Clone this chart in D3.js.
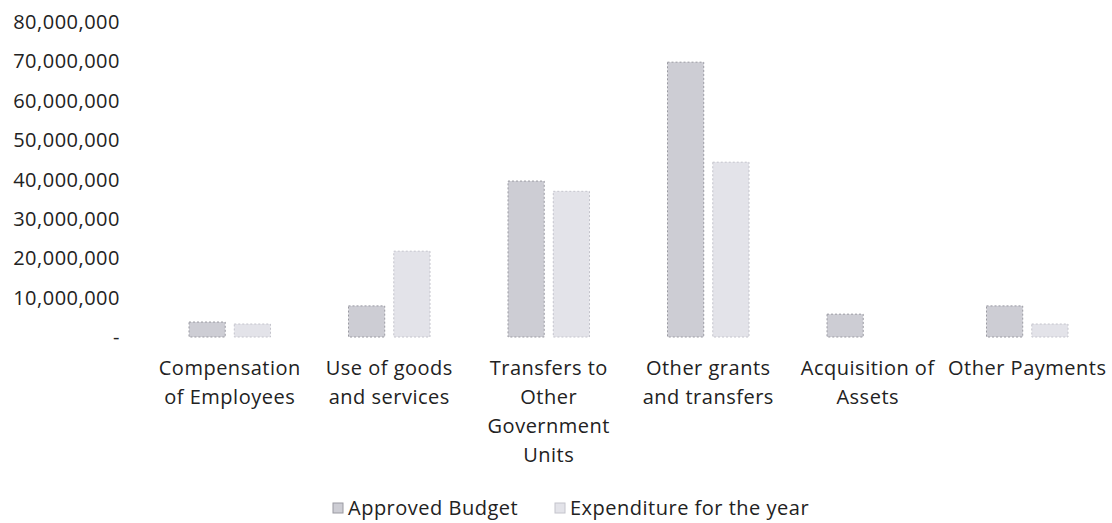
<!DOCTYPE html>
<html lang="en">
<head>
<meta charset="utf-8">
<title>Approved Budget vs Expenditure</title>
<script src="https://d3js.org/d3.v7.min.js"></script>
<style>
    body { margin: 0; background: #fff; font-family: "Open Sans", Lato, sans-serif; }
    svg text { fill: #222; font-size: 20px; letter-spacing: 0.5px; }
</style>
</head>
<body>
<svg id="chart" width="1112" height="523"></svg>
<script>
    // categories (each line of the wrapped label)
    const categories = [
        ["Compensation", "of Employees"],
        ["Use of goods", "and services"],
        ["Transfers to", "Other", "Government", "Units"],
        ["Other grants", "and transfers"],
        ["Acquisition of", "Assets"],
        ["Other Payments"]
    ];
    const seriesNames = ["Approved Budget", "Expenditure for the year"];
    const approved = [3800000, 7900000, 39600000, 69800000, 5800000, 7900000];
    const expenditure = [3300000, 21800000, 37000000, 44400000, 0, 3300000];
    const yTicks = [0, 10000000, 20000000, 30000000, 40000000, 50000000, 60000000, 70000000, 80000000];

    const colors = ["#cdcdd4", "#e3e3e9"];
    const strokes = ["#9a9aa2", "#c4c4cc"];

    const svg = d3.select("#chart");
    const plotLeft = 150, plotRight = 1107, plotTop = 22, plotBottom = 337;

    const y = d3.scaleLinear().domain([0, 80000000]).range([plotBottom, plotTop]);
    const x0 = d3.scaleBand().domain(d3.range(categories.length)).range([plotLeft, plotRight]);
    const x1 = d3.scaleBand().domain([0, 1]).range([39, x0.bandwidth() - 39]).paddingInner(0.2);

    // y axis labels
    const fmt = d3.format(",");
    svg.append("g")
        .selectAll("text")
        .data(yTicks)
        .join("text")
        .attr("x", 120)
        .attr("y", d => y(d))
        .attr("dy", "0.35em")
        .attr("text-anchor", "end")
        .text(d => d === 0 ? "-" : fmt(d));

    // bars
    const groups = svg.append("g")
        .selectAll("g")
        .data(categories.map((c, i) => i))
        .join("g")
        .attr("transform", i => `translate(${x0(i)},0)`);

    groups.selectAll("rect")
        .data(i => [approved[i], expenditure[i]].map((v, s) => ({v, s})).filter(d => d.v > 0))
        .join("rect")
        .attr("x", d => x1(d.s))
        .attr("width", x1.bandwidth())
        .attr("y", d => y(d.v))
        .attr("height", d => y(0) - y(d.v))
        .attr("fill", d => colors[d.s])
        .attr("stroke", d => strokes[d.s])
        .attr("stroke-width", 1)
        .attr("stroke-dasharray", "2,2");

    // category labels
    groups.append("text")
        .attr("text-anchor", "middle")
        .attr("x", x0.bandwidth() / 2)
        .selectAll("tspan")
        .data(i => categories[i])
        .join("tspan")
        .attr("x", x0.bandwidth() / 2)
        .attr("y", (d, j) => 375 + j * 29)
        .text(d => d);

    // legend
    const legendX = [333, 555];
    const legend = svg.append("g")
        .selectAll("g")
        .data(seriesNames)
        .join("g")
        .attr("transform", (d, i) => `translate(${legendX[i]},508)`);

    legend.append("rect")
        .attr("x", 0).attr("y", -5)
        .attr("width", 10).attr("height", 10)
        .attr("fill", (d, i) => colors[i])
        .attr("stroke", (d, i) => strokes[i]);

    legend.append("text")
        .attr("x", 15)
        .attr("dy", "0.35em")
        .text(d => d);
</script>
</body>
</html>
